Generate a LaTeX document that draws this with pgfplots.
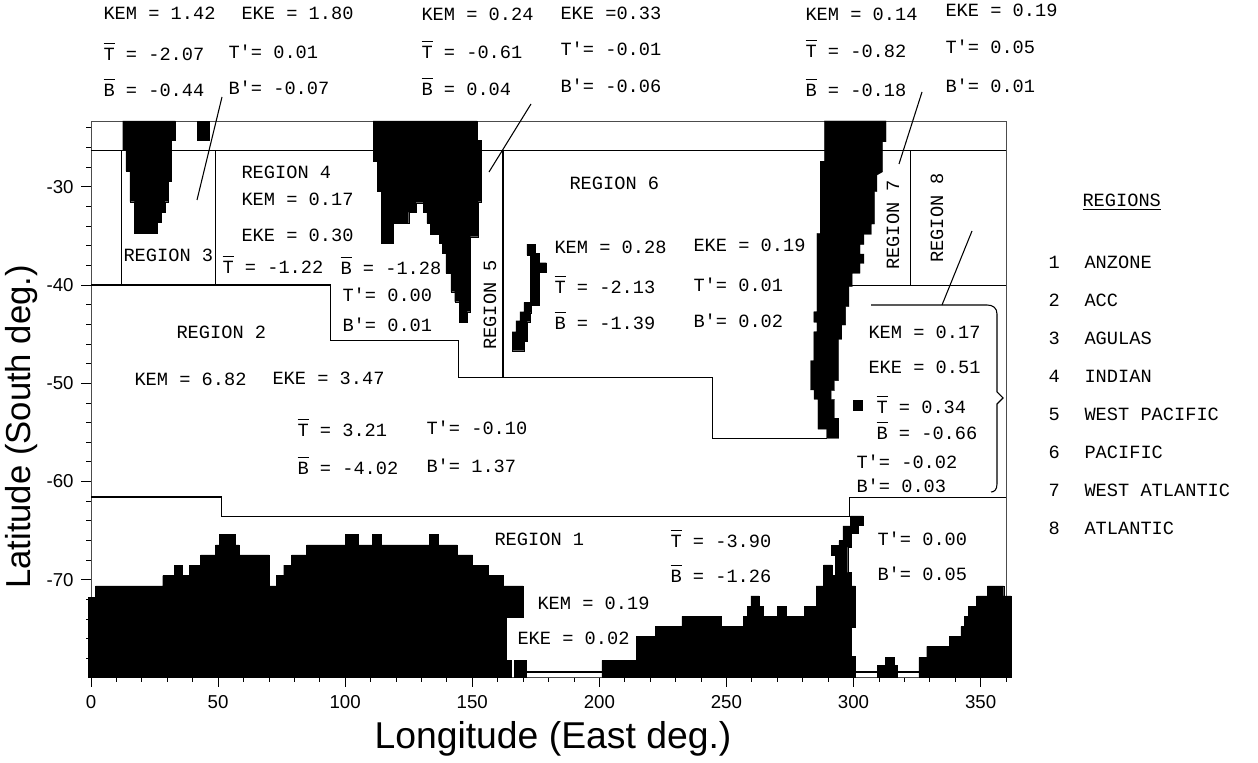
\documentclass[border=0pt]{standalone}
\usepackage{pgfplots}
\pgfplotsset{compat=1.18}
\usepackage{fontspec}
\setmainfont{Liberation Sans}
\newfontfamily\tw{Liberation Mono}
\newcommand\ob[1]{\leavevmode\rlap{\rule[0.9em]{0.6em}{0.7pt}}#1}
\pgfplotsset{land/.style={fill=black,draw=black,line width=0.2pt},reg/.style={black,line width=0.9pt}}
\begin{document}
\begin{tikzpicture}
\useasboundingbox (0,0) rectangle (943.5pt,572.25pt);
\begin{axis}[at={(68.25pt,64.5pt)},anchor=south west,scale only axis,width=686.25pt,height=417pt,
 xmin=0,xmax=360,ymin=-79.9,ymax=-23.3,clip=false,
 xtick={0,50,...,350},minor xtick={10,20,30,40,60,70,80,90,110,120,130,140,160,170,180,190,210,220,230,240,260,270,280,290,310,320,330,340,360},
 ytick={-70,-60,-50,-40,-30},yticklabels={{-70},{-60},{-50},{-40},{-30}},
 minor ytick={-78,-76,-74,-72,-68,-66,-64,-62,-58,-56,-54,-52,-48,-46,-44,-42,-38,-36,-34,-32,-28,-26,-24},
 tick align=outside,tick pos=left,major tick length=7.5pt,minor tick length=3.75pt,
 tick style={black,line width=0.7pt},minor tick style={black,line width=0.6pt},
 axis line style={black!70,line width=0.7pt},
 tick label style={font=\fontsize{14}{16}\selectfont},
 /pgf/number format/assume math mode=true,
 xticklabel style={yshift=-3pt},yticklabel style={xshift=-2pt}]
% Africa
\addplot[land] coordinates {(12.45,-23.3)(12.45,-26.27)(13.76,-26.27)(13.76,-28.4)(15.34,-28.4)(15.34,-31.52)(17.04,-31.52)(17.04,-34.68)(26.08,-34.68)(26.08,-33.62)(27.53,-33.62)(27.53,-32.54)(29.1,-32.54)(29.1,-31.52)(30.4,-31.52)(30.4,-29.42)(31.7,-29.42)(31.7,-25.25)(33.16,-25.25)(33.16,-23.3)} -- cycle;
\addplot[land] coordinates {(41.8,-23.3)(41.8,-25.25)(46.5,-25.25)(46.5,-23.3)} -- cycle;
% Australia
\addplot[land] coordinates {(111,-23.3)(111,-27.35)(112.6,-27.35)(112.6,-30.44)(114.2,-30.44)(114.2,-35.76)(119,-35.76)(119,-33.73)(125,-33.73)(125,-32.57)(127.8,-32.57)(127.8,-31.62)(130.7,-31.62)(130.7,-32.57)(132.1,-32.57)(132.1,-33.73)(133.6,-33.73)(133.6,-34.81)(137,-34.81)(137,-35.76)(138.3,-35.76)(138.3,-36.78)(139.6,-36.78)(139.6,-38.81)(141.6,-38.81)(141.6,-40.68)(143.1,-40.68)(143.1,-41.7)(144.8,-41.7)(144.8,-43.76)(148,-43.76)(148,-42.71)(149.3,-42.71)(149.3,-35.08)(152.3,-35.08)(152.3,-31.52)(153.4,-31.52)(153.4,-25.25)(151.9,-25.25)(151.9,-23.3)} -- cycle;
% New Zealand
\addplot[land] coordinates {(171.5,-35.83)(174.9,-35.83)(174.9,-36.78)(176.3,-36.78)(176.3,-37.73)(179.2,-37.73)(179.2,-38.71)(176.3,-38.71)(176.3,-42.03)(173.3,-42.03)(173.3,-42.81)(172.9,-42.81)(172.9,-43.73)(171.6,-43.73)(171.6,-45.76)(170.3,-45.76)(170.3,-46.68)(165.7,-46.68)(165.7,-44.75)(167.2,-44.75)(167.2,-43.63)(168.7,-43.63)(168.7,-42.71)(170.3,-42.71)(170.3,-41.76)(172.9,-41.76)(172.9,-36.95)(171.5,-36.95)} -- cycle;
% South America
\addplot[land] coordinates {(288.5,-23.3)(288.5,-27.39)(286.9,-27.39)(286.9,-34.74)(285.6,-34.74)(285.6,-42.71)(284.4,-42.71)(284.4,-43.8)(285.6,-43.8)(285.6,-44.75)(284.4,-44.75)(284.4,-47.7)(283.1,-47.7)(283.1,-50.68)(284.5,-50.68)(284.5,-51.63)(286,-51.63)(286,-54.68)(289.4,-54.68)(289.4,-55.6)(294.2,-55.6)(294.2,-53.56)(292.5,-53.56)(292.5,-51.63)(291.2,-51.63)(291.2,-50.75)(292.5,-50.75)(292.5,-49.73)(294.1,-49.73)(294.1,-45.53)(295.4,-45.53)(295.4,-44.07)(296.9,-44.07)(296.9,-42.2)(298.2,-42.2)(298.2,-40.17)(299.5,-40.17)(299.5,-38.81)(302.6,-38.81)(302.6,-37.8)(304.1,-37.8)(304.1,-36.85)(302.6,-36.85)(302.6,-35.86)(304.1,-35.86)(304.1,-34.85)(307,-34.85)(307,-33.79)(308.3,-33.79)(308.3,-30.5)(309.2,-30.5)(309.2,-28.81)(311.5,-28.47)(311.5,-25.42)(312.8,-25.42)(312.8,-23.3)} -- cycle;
\addplot[land] coordinates {(299.7,-51.7)(299.7,-52.72)(303.3,-52.72)(303.3,-51.7)} -- cycle;
% Antarctica
\addplot[land] coordinates {(-1,-79.9)(-1,-71.78)(1.8,-71.78)(1.8,-70.62)(28.2,-70.62)(28.2,-69.57)(32.8,-69.57)(32.8,-68.52)(36,-68.52)(36,-69.57)(38.7,-69.57)(38.7,-68.52)(43.1,-68.52)(43.1,-67.47)(49,-67.47)(49,-66.45)(50.5,-66.45)(50.5,-65.4)(56.8,-65.4)(56.8,-66.45)(58.3,-66.45)(58.3,-67.47)(70.1,-67.47)(70.1,-70.62)(72.9,-70.62)(72.9,-69.57)(75.8,-69.57)(75.8,-68.52)(78.9,-68.52)(78.9,-67.47)(84.8,-67.47)(84.8,-66.45)(100,-66.45)(100,-65.4)(105,-65.4)(105,-66.45)(110.6,-66.45)(110.6,-65.4)(114,-65.4)(114,-66.45)(133,-66.45)(133,-65.4)(136.6,-65.4)(136.6,-66.45)(144,-66.45)(144,-67.47)(150.1,-67.47)(150.1,-68.52)(156.1,-68.52)(156.1,-69.57)(162.1,-69.57)(162.1,-70.62)(170,-70.62)(170,-73.81)(163.4,-73.81)(163.4,-78.2)(165.2,-78.2)(165.2,-79.9)} -- cycle;
\addplot[land] coordinates {(166.5,-79.9)(166.5,-78.2)(171.3,-78.2)(171.3,-79.9)} -- cycle;
\addplot[land] coordinates {(201,-79.9)(201,-78.22)(214.5,-78.22)(214.5,-75.78)(222,-75.78)(222,-74.76)(232.5,-74.76)(232.5,-73.74)(247.8,-73.74)(247.8,-74.76)(256.6,-74.76)(256.6,-73.74)(258.1,-73.74)(258.1,-72.72)(259.6,-72.72)(259.6,-71.64)(263,-71.64)(263,-72.72)(264.4,-72.72)(264.4,-73.74)(270.1,-73.74)(270.1,-72.72)(273.5,-72.72)(273.5,-73.74)(280.7,-73.74)(280.7,-72.72)(285.3,-72.72)(285.3,-70.62)(288.2,-70.62)(288.2,-68.49)(291.5,-68.49)(291.5,-69.57)(292.9,-69.57)(292.9,-67.47)(291.2,-67.47)(291.2,-66.52)(294.2,-66.52)(294.2,-66.01)(295.8,-66.01)(295.8,-64.52)(298.8,-64.52)(298.8,-63.5)(303.7,-63.5)(303.7,-64.48)(302,-64.48)(302,-65.26)(299.1,-65.26)(299.1,-66.69)(297.7,-66.69)(297.7,-69.26)(299.1,-69.26)(299.1,-70.62)(300.7,-70.62)(300.7,-74.83)(299.1,-74.83)(299.1,-77.81)(300.7,-77.81)(300.7,-79.9)} -- cycle;
\addplot[land] coordinates {(309.3,-79.9)(309.3,-78.69)(312.5,-78.69)(312.5,-77.91)(315.9,-77.91)(315.9,-78.69)(317.1,-78.69)(317.1,-79.9)} -- cycle;
\addplot[land] coordinates {(325.7,-79.9)(325.7,-77.91)(328.8,-77.91)(328.8,-76.79)(337.8,-76.79)(337.8,-75.78)(342.2,-75.78)(342.2,-74.76)(343.7,-74.76)(343.7,-73.74)(345.1,-73.74)(345.1,-72.72)(348.4,-72.72)(348.4,-71.64)(352.7,-71.64)(352.7,-70.62)(359.1,-70.62)(359.1,-71.64)(362,-71.64)(362,-79.9)} -- cycle;
% Region boundaries
\addplot[reg] coordinates {(0,-26.33)(360,-26.33)};
\addplot[reg] coordinates {(11.9,-26.33)(11.9,-40)};
\addplot[reg] coordinates {(49,-26.33)(49,-40)};
\addplot[reg] coordinates {(162.1,-26.33)(162.1,-49.39)};
\addplot[reg] coordinates {(322.4,-26.33)(322.4,-40)};
\addplot[reg] coordinates {(0,-40)(94.2,-40)(94.2,-45.66)(144.7,-45.66)(144.7,-49.39)(244.6,-49.39)(244.6,-55.6)(289.4,-55.6)};
\addplot[reg] coordinates {(299.5,-40.05)(360,-40.05)};
\addplot[reg] coordinates {(0,-61.57)(51.5,-61.57)(51.5,-63.6)(298.5,-63.6)(298.5,-61.6)(360,-61.6)};
\addplot[reg] coordinates {(171.3,-79.4)(201,-79.4)};
\addplot[reg] coordinates {(300.7,-79.4)(325.7,-79.4)};
\end{axis}
\begin{scope}[yshift=572.25pt,x=0.75pt,y=-0.75pt,line width=0.8pt]
\tikzset{t/.style={anchor=west,inner sep=0pt,font=\tw\fontsize{14}{16}\selectfont},
 r/.style={rotate=90,inner sep=0pt,font=\tw\fontsize{14}{16}\selectfont}}
% block 1
\node[t] at (103,13) {KEM = 1.42};
\node[t] at (241,13) {EKE = 1.80};
\node[t] at (103,52) {\ob{T} = -2.07};
\node[t] at (228,52) {T'= 0.01};
\node[t] at (103,88) {\ob{B} = -0.44};
\node[t] at (228,88) {B'= -0.07};
% block 2
\node[t] at (421,14) {KEM = 0.24};
\node[t] at (560,13) {EKE =0.33};
\node[t] at (421,50) {\ob{T} = -0.61};
\node[t] at (560,49) {T'= -0.01};
\node[t] at (421,87) {\ob{B} = 0.04};
\node[t] at (560,86) {B'= -0.06};
% block 3
\node[t] at (805,14) {KEM = 0.14};
\node[t] at (945,10) {EKE = 0.19};
\node[t] at (805,49) {\ob{T} = -0.82};
\node[t] at (945,47) {T'= 0.05};
\node[t] at (805,88) {\ob{B} = -0.18};
\node[t] at (945,86) {B'= 0.01};
% region 4
\node[t] at (241,172) {REGION 4};
\node[t] at (241,199) {KEM = 0.17};
\node[t] at (241,235) {EKE = 0.30};
\node[t] at (222,265) {\ob{T} = -1.22};
\node[t] at (340,266) {\ob{B} = -1.28};
\node[t] at (342,295) {T'= 0.00};
\node[t] at (342,325) {B'= 0.01};
\node[t] at (123,255) {REGION 3};
% region 2
\node[t] at (176,332) {REGION 2};
\node[t] at (134,379) {KEM = 6.82};
\node[t] at (272,378) {EKE = 3.47};
\node[t] at (297,428) {\ob{T} = 3.21};
\node[t] at (426,428) {T'= -0.10};
\node[t] at (297,466) {\ob{B} = -4.02};
\node[t] at (426,466) {B'= 1.37};
% region 1
\node[t] at (494,539) {REGION 1};
\node[t] at (670,539) {\ob{T} = -3.90};
\node[t] at (670,574) {\ob{B} = -1.26};
\node[t] at (877,539) {T'= 0.00};
\node[t] at (877,574) {B'= 0.05};
\node[t] at (537,603) {KEM = 0.19};
\node[t] at (517,638) {EKE = 0.02};
% region 6
\node[t] at (569,183) {REGION 6};
\node[t] at (554,247) {KEM = 0.28};
\node[t] at (693,245) {EKE = 0.19};
\node[t] at (554,285) {\ob{T} = -2.13};
\node[t] at (693,285) {T'= 0.01};
\node[t] at (554,321) {\ob{B} = -1.39};
\node[t] at (693,321) {B'= 0.02};
% rotated
\node[r] at (490,305) {REGION 5};
\node[r] at (893,225) {REGION 7};
\node[r] at (937,218) {REGION 8};
% region 8
\node[t] at (868,332) {KEM = 0.17};
\node[t] at (868,367) {EKE = 0.51};
\node[t] at (876,405) {\ob{T} = 0.34};
\node[t] at (876,431) {\ob{B} = -0.66};
\node[t] at (856,462) {T'= -0.02};
\node[t] at (856,486) {B'= 0.03};
% legend
\node[t] at (1082,202) {\underline{REGIONS}};
\node[t] at (1048,262) {1};\node[t] at (1084,262) {ANZONE};
\node[t] at (1048,300) {2};\node[t] at (1084,300) {ACC};
\node[t] at (1048,338) {3};\node[t] at (1084,338) {AGULAS};
\node[t] at (1048,376) {4};\node[t] at (1084,376) {INDIAN};
\node[t] at (1048,414) {5};\node[t] at (1084,414) {WEST PACIFIC};
\node[t] at (1048,452) {6};\node[t] at (1084,452) {PACIFIC};
\node[t] at (1048,490) {7};\node[t] at (1084,490) {WEST ATLANTIC};
\node[t] at (1048,528) {8};\node[t] at (1084,528) {ATLANTIC};
% leaders
\draw (222,97) -- (197,200);
\draw (531,104) -- (489,172);
\draw (922,92) -- (899,164);
\draw (972,231) -- (942,305);
\draw (871,305) -- (987,305) .. controls (993,305) and (997,308) .. (997,314) -- (997,392) -- (1003,398) -- (997,404) -- (997,484) .. controls (997,490) and (994,492) .. (991,492);
% axis titles
\node[inner sep=0pt,font=\fontsize{28}{30}\selectfont] at (553,739) {Longitude (East deg.)};
\node[inner sep=0pt,rotate=90,font=\fontsize{26}{30}\selectfont] at (22,427) {Latitude (South deg.)};
\end{scope}
\end{tikzpicture}
\end{document}
